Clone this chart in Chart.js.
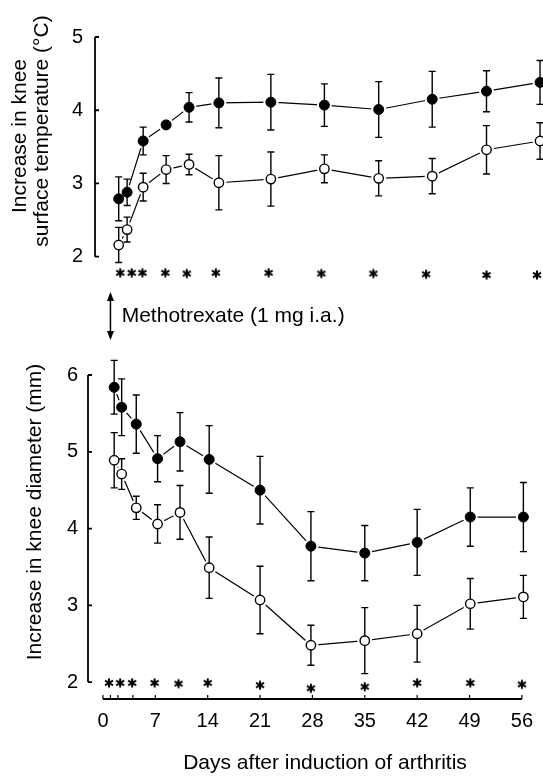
<!DOCTYPE html>
<html lang="en">

<head>
    <meta charset="UTF-8">
    <title>Knee temperature and diameter after arthritis induction</title>
    <script src="https://cdn.jsdelivr.net/npm/chart.js@4"></script>
    <style>
        html, body { margin: 0; padding: 0; background: #fff; }
        body { width: 543px; height: 777px; position: relative; overflow: hidden; }
        #boxDiam { position: absolute; left: 0; top: 0; }
        #boxTemp { position: absolute; left: 7px; top: 0; }
    </style>
</head>

<body>
    <div id="boxDiam"><canvas id="chartDiam" width="543" height="777"></canvas></div>
    <div id="boxTemp"><canvas id="chartTemp" width="543" height="310"></canvas></div>
</body>

</html>

<script>
    // ---- values ----

    // upper panel: increase in knee surface temperature (°C)
    const tempDays = [1.1, 2.2, 4.3, 7.3, 10.3, 14.2, 21, 28, 35.1, 42.1, 49.2, 56.2];
    const tempArthritis = [2.79, 2.88, 3.58, 3.80, 4.04, 4.10, 4.11, 4.07, 4.01, 4.15, 4.26, 4.38];
    const tempArthritisErr = [0.30, 0.18, 0.19, 0.04, 0.20, 0.34, 0.38, 0.29, 0.38, 0.38, 0.28, 0.30];
    const tempMtx = [2.16, 2.37, 2.95, 3.19, 3.26, 3.01, 3.06, 3.20, 3.07, 3.10, 3.46, 3.58];
    const tempMtxErr = [0.24, 0.17, 0.19, 0.19, 0.14, 0.37, 0.37, 0.19, 0.24, 0.24, 0.33, 0.25];
    const tempStarDays = [1.3, 2.8, 4.2, 7.2, 10.0, 13.8, 20.7, 27.6, 34.4, 41.3, 49.2, 55.8];
    const tempStarLevel = [1.78, 1.78, 1.78, 1.78, 1.77, 1.78, 1.78, 1.77, 1.77, 1.76, 1.75, 1.75];
    const tempTicks = [2, 3, 4, 5];

    // lower panel: increase in knee diameter (mm)
    const diamDays = [1.5, 2.5, 4.45, 7.3, 10.3, 14.2, 21, 27.8, 35, 42, 49.1, 56.2];
    const diamArthritis = [5.84, 5.58, 5.36, 4.91, 5.13, 4.90, 4.50, 3.77, 3.68, 3.82, 4.15, 4.15];
    const diamArthritisErr = [0.35, 0.37, 0.38, 0.30, 0.38, 0.44, 0.44, 0.45, 0.36, 0.43, 0.38, 0.45];
    const diamMtx = [4.89, 4.71, 4.27, 4.06, 4.21, 3.49, 3.07, 2.48, 2.54, 2.63, 3.02, 3.11];
    const diamMtxErr = [0.36, 0.20, 0.15, 0.25, 0.35, 0.40, 0.44, 0.26, 0.43, 0.37, 0.33, 0.28];
    const diamStarDays = [0.8, 2.3, 3.9, 6.9, 10.1, 14.0, 21.0, 27.8, 35.0, 42.0, 49.1, 56.0];
    const diamStarLevel = [1.99, 1.99, 1.99, 1.99, 1.98, 1.99, 1.96, 1.92, 1.94, 1.99, 1.99, 1.97];
    const diamTicks = [2, 3, 4, 5, 6];

    // shared day axis
    const dayTicks = [0, 1, 2, 4, 7, 14, 21, 28, 35, 42, 49, 56];
    const dayLabels = [0, 7, 14, 21, 28, 35, 42, 49, 56];
    const methotrexateDay = 1;

    const black = "#000";
    const fontFamily = "'Liberation Sans', Arial, sans-serif";
    Chart.defaults.font.family = fontFamily;
    Chart.defaults.color = black;

    // small 6-armed asterisk used as point style
    function makeAsterisk() {
        const c = document.createElement("canvas");
        c.width = 12;
        c.height = 12;
        const g = c.getContext("2d");
        g.strokeStyle = black;
        g.lineWidth = 2;
        g.translate(6, 6);
        for (let k = 0; k < 3; k++) {
            const a = Math.PI / 2 + k * Math.PI / 3;
            g.beginPath();
            g.moveTo(Math.cos(a) * 4.6, Math.sin(a) * 4.6);
            g.lineTo(-Math.cos(a) * 4.6, -Math.sin(a) * 4.6);
            g.stroke();
        }
        return c;
    }
    const asterisk = makeAsterisk();

    function toPoints(days, values) {
        return days.map((d, i) => ({ x: d, y: values[i] }));
    }

    function buildDatasets(days, filled, filledErr, open, openErr, starDays, starLevel) {
        return [
            // markers on top
            {
                data: toPoints(days, filled), errorBars: filledErr, order: 1, showLine: false, clip: false,
                pointRadius: 5, pointBackgroundColor: black, pointBorderColor: black, pointBorderWidth: 1
            },
            {
                data: toPoints(days, open), errorBars: openErr, order: 1, showLine: false, clip: false,
                pointRadius: 4.7, pointBackgroundColor: "#fff", pointBorderColor: black, pointBorderWidth: 1.4
            },
            {
                data: toPoints(starDays, starLevel), order: 1, showLine: false, clip: false,
                pointStyle: asterisk, pointRadius: 4
            },
            // white ring round each marker so the lines stop short of it
            {
                data: toPoints(days, filled).concat(toPoints(days, open)), halo: true, order: 2,
                showLine: false, clip: false, pointRadius: 7.5, pointBackgroundColor: "#fff",
                pointBorderColor: "#fff", pointBorderWidth: 0
            },
            // joining lines
            {
                data: toPoints(days, filled), order: 3, showLine: true, clip: false,
                borderColor: black, borderWidth: 1.2, pointRadius: 0, tension: 0
            },
            {
                data: toPoints(days, open), order: 3, showLine: true, clip: false,
                borderColor: black, borderWidth: 1.2, pointRadius: 0, tension: 0
            }
        ];
    }

    // error bars, drawn after the white rings and before the markers
    const errorBarPlugin = {
        id: "errorBars",
        afterDatasetDraw(chart, args) {
            if (!chart.data.datasets[args.index].halo) return;
            const { ctx, scales: { x, y } } = chart;
            ctx.save();
            ctx.strokeStyle = black;
            ctx.lineWidth = 1.4;
            chart.data.datasets.forEach(ds => {
                if (!ds.errorBars) return;
                ds.data.forEach((p, i) => {
                    const e = ds.errorBars[i];
                    const px = x.getPixelForValue(p.x);
                    const hi = y.getPixelForValue(p.y + e);
                    const lo = y.getPixelForValue(p.y - e);
                    ctx.beginPath();
                    ctx.moveTo(px, hi); ctx.lineTo(px, lo);
                    ctx.moveTo(px - 3.5, hi); ctx.lineTo(px + 3.5, hi);
                    ctx.moveTo(px - 3.5, lo); ctx.lineTo(px + 3.5, lo);
                    ctx.stroke();
                });
            });
            ctx.restore();
        }
    };

    // axis lines with the tick marks turned inward
    const axesPlugin = {
        id: "axesLines",
        afterDraw(chart, args, opts) {
            const { ctx, chartArea, scales: { x, y } } = chart;
            ctx.save();
            ctx.strokeStyle = black;
            ctx.lineWidth = 1.8;
            const left = chartArea.left;
            ctx.beginPath();
            ctx.moveTo(left, y.getPixelForValue(opts.yTicks[0]));
            ctx.lineTo(left, y.getPixelForValue(opts.yTicks[opts.yTicks.length - 1]));
            opts.yTicks.forEach(v => {
                const py = y.getPixelForValue(v);
                ctx.moveTo(left, py);
                ctx.lineTo(left + 4, py);
            });
            ctx.stroke();

            if (opts.xTicks) {
                const bottom = chartArea.bottom;
                ctx.beginPath();
                ctx.moveTo(x.getPixelForValue(opts.xTicks[0]), bottom);
                ctx.lineTo(x.getPixelForValue(opts.xTicks[opts.xTicks.length - 1]), bottom);
                ctx.stroke();
                ctx.lineWidth = 1.2;
                ctx.beginPath();
                opts.xTicks.forEach(v => {
                    const px = x.getPixelForValue(v);
                    ctx.moveTo(px, bottom);
                    ctx.lineTo(px, bottom - 4);
                });
                ctx.stroke();
            }
            ctx.restore();
        }
    };

    // axis titles, the methotrexate note and its arrow
    const notesPlugin = {
        id: "notes",
        afterDraw(chart, args, opts) {
            const ctx = chart.ctx;
            ctx.save();
            ctx.fillStyle = black;
            ctx.strokeStyle = black;
            (opts.texts || []).forEach(t => {
                ctx.save();
                ctx.translate(t.x, t.y);
                if (t.vertical) ctx.rotate(-Math.PI / 2);
                ctx.font = t.size + "px " + fontFamily;
                ctx.textAlign = t.align || "center";
                ctx.textBaseline = "middle";
                ctx.fillText(t.text, 0, 0);
                ctx.restore();
            });
            if (opts.arrow) {
                const ax = chart.scales.x.getPixelForValue(opts.arrow.day);
                const top = opts.arrow.top;
                const bottom = opts.arrow.bottom;
                ctx.lineWidth = 1.5;
                ctx.beginPath();
                ctx.moveTo(ax, top + 6);
                ctx.lineTo(ax, bottom - 6);
                ctx.stroke();
                ctx.beginPath();
                ctx.moveTo(ax, top); ctx.lineTo(ax - 3.5, top + 9); ctx.lineTo(ax + 3.5, top + 9);
                ctx.closePath();
                ctx.fill();
                ctx.beginPath();
                ctx.moveTo(ax, bottom); ctx.lineTo(ax - 3.5, bottom - 9); ctx.lineTo(ax + 3.5, bottom - 9);
                ctx.closePath();
                ctx.fill();
            }
            ctx.restore();
        }
    };

    function yScale(min, max, ticks, pad) {
        return {
            type: "linear",
            min: min,
            max: max,
            afterBuildTicks: s => { s.ticks = ticks.map(v => ({ value: v })); },
            afterFit: s => { s.width = 88; },
            grid: { display: false, drawTicks: false },
            border: { display: false },
            ticks: { padding: pad, font: { size: 20 }, color: black }
        };
    }

    // upper chart: temperature
    new Chart(document.getElementById("chartTemp"), {
        type: "scatter",
        data: {
            datasets: buildDatasets(tempDays, tempArthritis, tempArthritisErr, tempMtx, tempMtxErr,
                tempStarDays, tempStarLevel)
        },
        options: {
            responsive: false,
            animation: false,
            events: [],
            layout: { padding: { left: 0, right: 11.5, top: 37, bottom: 20.3 } },
            scales: {
                x: { type: "linear", min: -2, max: 56, display: false },
                y: yScale(1.6, 5, tempTicks, 12)
            },
            plugins: {
                legend: { display: false },
                tooltip: { enabled: false },
                axesLines: { yTicks: tempTicks },
                notes: {
                    texts: [
                        { text: "Increase in knee", x: 13, y: 136, size: 21, vertical: true },
                        { text: "surface temperature (°C)", x: 35, y: 131, size: 21, vertical: true }
                    ]
                }
            }
        },
        plugins: [errorBarPlugin, axesPlugin, notesPlugin]
    });

    // lower chart: diameter, carries the day axis
    new Chart(document.getElementById("chartDiam"), {
        type: "scatter",
        data: {
            datasets: buildDatasets(diamDays, diamArthritis, diamArthritisErr, diamMtx, diamMtxErr,
                diamStarDays, diamStarLevel)
        },
        options: {
            responsive: false,
            animation: false,
            events: [],
            layout: { padding: { left: 0, right: 13, top: 375, bottom: 0 } },
            scales: {
                x: {
                    type: "linear",
                    min: -2,
                    max: 56,
                    afterBuildTicks: s => { s.ticks = dayTicks.map(v => ({ value: v })); },
                    afterFit: s => { s.height = 78; },
                    grid: { display: false, drawTicks: false },
                    border: { display: false },
                    ticks: {
                        autoSkip: false,
                        maxRotation: 0,
                        padding: 10,
                        font: { size: 20 },
                        color: black,
                        callback: v => dayLabels.includes(v) ? String(v) : ""
                    }
                },
                y: yScale(1.78, 6, diamTicks, 10)
            },
            plugins: {
                legend: { display: false },
                tooltip: { enabled: false },
                axesLines: { yTicks: diamTicks, xTicks: dayTicks },
                notes: {
                    texts: [
                        { text: "Increase in knee diameter (mm)", x: 35, y: 512, size: 21, vertical: true },
                        { text: "Days after induction of arthritis", x: 325, y: 763, size: 21 },
                        { text: "Methotrexate (1 mg i.a.)", x: 121.7, y: 316, size: 21, align: "left" }
                    ],
                    arrow: { day: methotrexateDay, top: 292, bottom: 340 }
                }
            }
        },
        plugins: [errorBarPlugin, axesPlugin, notesPlugin]
    });
</script>
